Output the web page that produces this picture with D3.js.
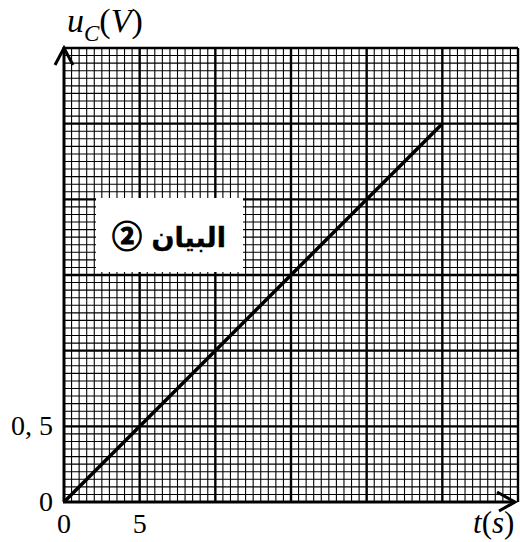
<!DOCTYPE html>
<html><head><meta charset="utf-8">
<script src="https://cdn.jsdelivr.net/npm/d3@7"></script>
<style>html,body{margin:0;padding:0;background:#fff;}</style>
</head><body>
<script>
// data
const tValues = [0, 25];        // t (s)
const uValues = [0, 2.5];       // u_C (V)
const xTickValues = [0, 5];
const xTickLabels = ["0", "5"];
const yTickValues = [0, 0.5];
const yTickLabels = ["0", "0, 5"];
const xMax = 30, yMax = 3;
const xMinorStep = 0.5, yMinorStep = 0.05;
const graphWord = "البيان";
const graphNumber = "②";

const W = 520, H = 542;
const svg = d3.select("body").append("svg").attr("width", W).attr("height", H);
const x = d3.scaleLinear().domain([0, xMax]).range([64, 518]);
const y = d3.scaleLinear().domain([0, yMax]).range([502, 48]);

const g = svg.append("g");
// grid
const nx = Math.round(xMax / xMinorStep), ny = Math.round(yMax / yMinorStep);
const xs = d3.range(1, nx + 1).map(i => i * xMinorStep);
const ys = d3.range(1, ny + 1).map(i => i * yMinorStep);
g.selectAll("line.vx").data(xs).join("line")
  .attr("x1", d => x(d)).attr("x2", d => x(d)).attr("y1", y(0)).attr("y2", y(yMax))
  .attr("stroke", "#000").attr("stroke-width", (d, i) => (i + 1) % 10 === 0 ? 2.4 : 1.1);
g.selectAll("line.hy").data(ys).join("line")
  .attr("y1", d => y(d)).attr("y2", d => y(d)).attr("x1", x(0)).attr("x2", x(xMax))
  .attr("stroke", "#000").attr("stroke-width", (d, i) => (i + 1) % 10 === 0 ? 2.4 : 1.1);

// label box
svg.append("rect").attr("x", 96).attr("y", 198).attr("width", 147).attr("height", 74).attr("fill", "#fff");
const lbl = svg.append("text").attr("x", 169).attr("y", 247).attr("text-anchor", "middle")
  .attr("direction", "rtl")
  .attr("font-family", "DejaVu Sans, sans-serif").attr("font-weight", "bold").attr("font-size", 27);
lbl.append("tspan").attr("stroke", "#000").attr("stroke-width", 0.4).text(graphWord + " ");
lbl.append("tspan").attr("font-family", "Noto Sans CJK SC, sans-serif").attr("font-size", 30)
  .attr("stroke", "#000").attr("stroke-width", 1.1).text(graphNumber);

// axes
svg.append("line").attr("x1", x(0)).attr("y1", y(0)).attr("x2", x(0)).attr("y2", y(yMax) - 1)
  .attr("stroke", "#000").attr("stroke-width", 3);
svg.append("line").attr("x1", x(0) - 1).attr("y1", y(0)).attr("x2", 515).attr("y2", y(0))
  .attr("stroke", "#000").attr("stroke-width", 3);
svg.append("path").attr("d", `M${x(0) - 9},${y(yMax) + 17} L${x(0)},${y(yMax)} L${x(0) + 9},${y(yMax) + 17}`)
  .attr("fill", "none").attr("stroke", "#000").attr("stroke-width", 3);
svg.append("path").attr("d", `M497,${y(0) - 10} L515,${y(0)} L499,${y(0) + 9}`)
  .attr("fill", "none").attr("stroke", "#000").attr("stroke-width", 3);

// data line
const line = d3.line().x(d => x(d[0])).y(d => y(d[1]));
svg.append("path").datum(d3.zip(tValues, uValues)).attr("d", line)
  .attr("fill", "none").attr("stroke", "#000").attr("stroke-width", 3.5);

// tick labels
const font = "Liberation Serif, Times New Roman, serif";
svg.selectAll("text.xt").data(xTickValues).join("text")
  .attr("x", d => x(d)).attr("y", 533).attr("text-anchor", "middle")
  .attr("font-family", font).attr("font-size", 28).text((d, i) => xTickLabels[i]);
svg.selectAll("text.yt").data(yTickValues).join("text")
  .attr("x", 53).attr("y", d => y(d) + 9).attr("text-anchor", "end")
  .attr("font-family", font).attr("font-size", 28).text((d, i) => yTickLabels[i]);

// axis titles
const yt = svg.append("text").attr("x", 67).attr("y", 32).attr("font-family", font).attr("font-size", 34);
yt.append("tspan").attr("font-style", "italic").text("u");
yt.append("tspan").attr("font-style", "italic").attr("font-size", 23).attr("dy", 9).text("C");
yt.append("tspan").attr("dy", -9).text("(");
yt.append("tspan").attr("font-style", "italic").text("V");
yt.append("tspan").text(")");

const xt = svg.append("text").attr("x", 473).attr("y", 533).attr("font-family", font).attr("font-size", 31);
xt.append("tspan").attr("font-style", "italic").text("t");
xt.append("tspan").text("(");
xt.append("tspan").attr("font-style", "italic").text("s");
xt.append("tspan").text(")");
</script>
</body></html>
